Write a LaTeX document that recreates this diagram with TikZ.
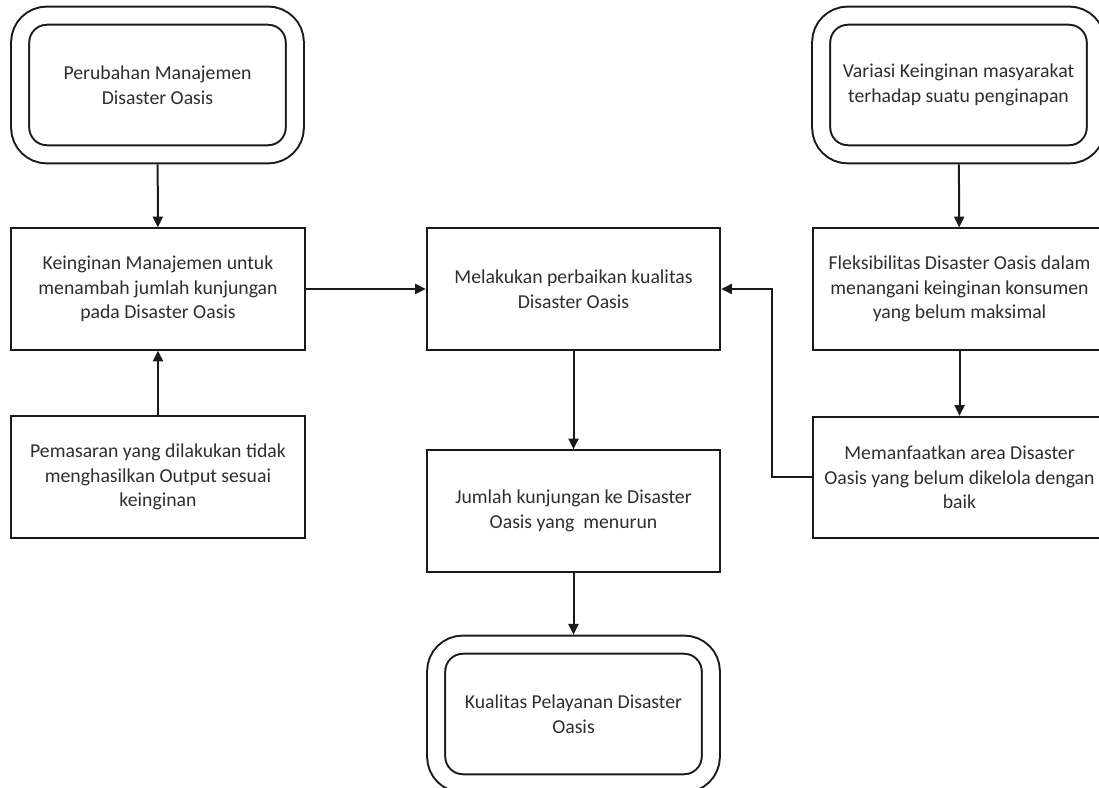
\documentclass[tikz,border=0pt]{standalone}
\usepackage{fontspec}
\setmainfont{Carlito}
\usetikzlibrary{arrows.meta,positioning}
\definecolor{boxline}{HTML}{1A1A1A}
\definecolor{boxtext}{HTML}{2E2E2E}
\tikzset{
  procbox/.style={
    rectangle,
    draw=boxline,
    fill=white,
    line width=1.5pt,
    align=center,
    minimum width=220pt,
    minimum height=91pt,
    text=boxtext,
    font=\fontsize{14.8}{18.5}\selectfont
  },
  termbox/.style={
    procbox,
    rounded corners=20pt,
    double=white,
    double distance=12pt,
    outer sep=7.5pt,
    minimum width=206pt,
    minimum height=104pt
  },
  flowarrow/.style={-{Triangle[length=8pt,width=7.5pt]}, line width=1.5pt, draw=boxline}
}
\begin{document}
\begin{tikzpicture}[x=0.75pt,y=0.75pt]
\useasboundingbox (0,0) rectangle (1099,788);
\clip (0,0) rectangle (1099,788);
% left column
\node[termbox] (perubahan) at (157.5,703) {Perubahan Manajemen\\Disaster Oasis};
\node[procbox] (keinginan) at (158,499) {Keinginan Manajemen untuk\\menambah jumlah kunjungan\\pada Disaster Oasis};
\node[procbox] (pemasaran) at (158,311) {Pemasaran yang dilakukan tidak\\menghasilkan Output sesuai\\keinginan};
% centre column
\node[procbox] (perbaikan) at (573.5,499) {Melakukan perbaikan kualitas\\Disaster Oasis};
\node[procbox] (jumlah) at (573.5,277) {Jumlah kunjungan ke Disaster\\Oasis yang\ \ menurun};
\node[termbox] (kualitas) at (573.5,74) {Kualitas Pelayanan Disaster\\Oasis};
% right column
\node[termbox] (variasi) at (958.5,703) {Variasi Keinginan masyarakat\\terhadap suatu penginapan};
\node[procbox] (fleksibilitas) at (959.5,499) {Fleksibilitas Disaster Oasis dalam\\menangani keinginan konsumen\\yang belum maksimal};
\node[procbox] (memanfaatkan) at (959.5,310.5) {Memanfaatkan area Disaster\\Oasis yang belum dikelola dengan\\baik};
\coordinate (balik) at (772,499);
\draw[flowarrow] (perubahan) -- (keinginan);
\draw[flowarrow] (pemasaran) -- (keinginan);
\draw[flowarrow] (keinginan) -- (perbaikan);
\draw[flowarrow] (perbaikan) -- (jumlah);
\draw[flowarrow] (jumlah) -- (kualitas);
\draw[flowarrow] (variasi) -- (fleksibilitas);
\draw[flowarrow] (fleksibilitas) -- (memanfaatkan);
\draw[flowarrow] (memanfaatkan.west) -| (balik) -- (perbaikan.east);
\end{tikzpicture}
\end{document}
